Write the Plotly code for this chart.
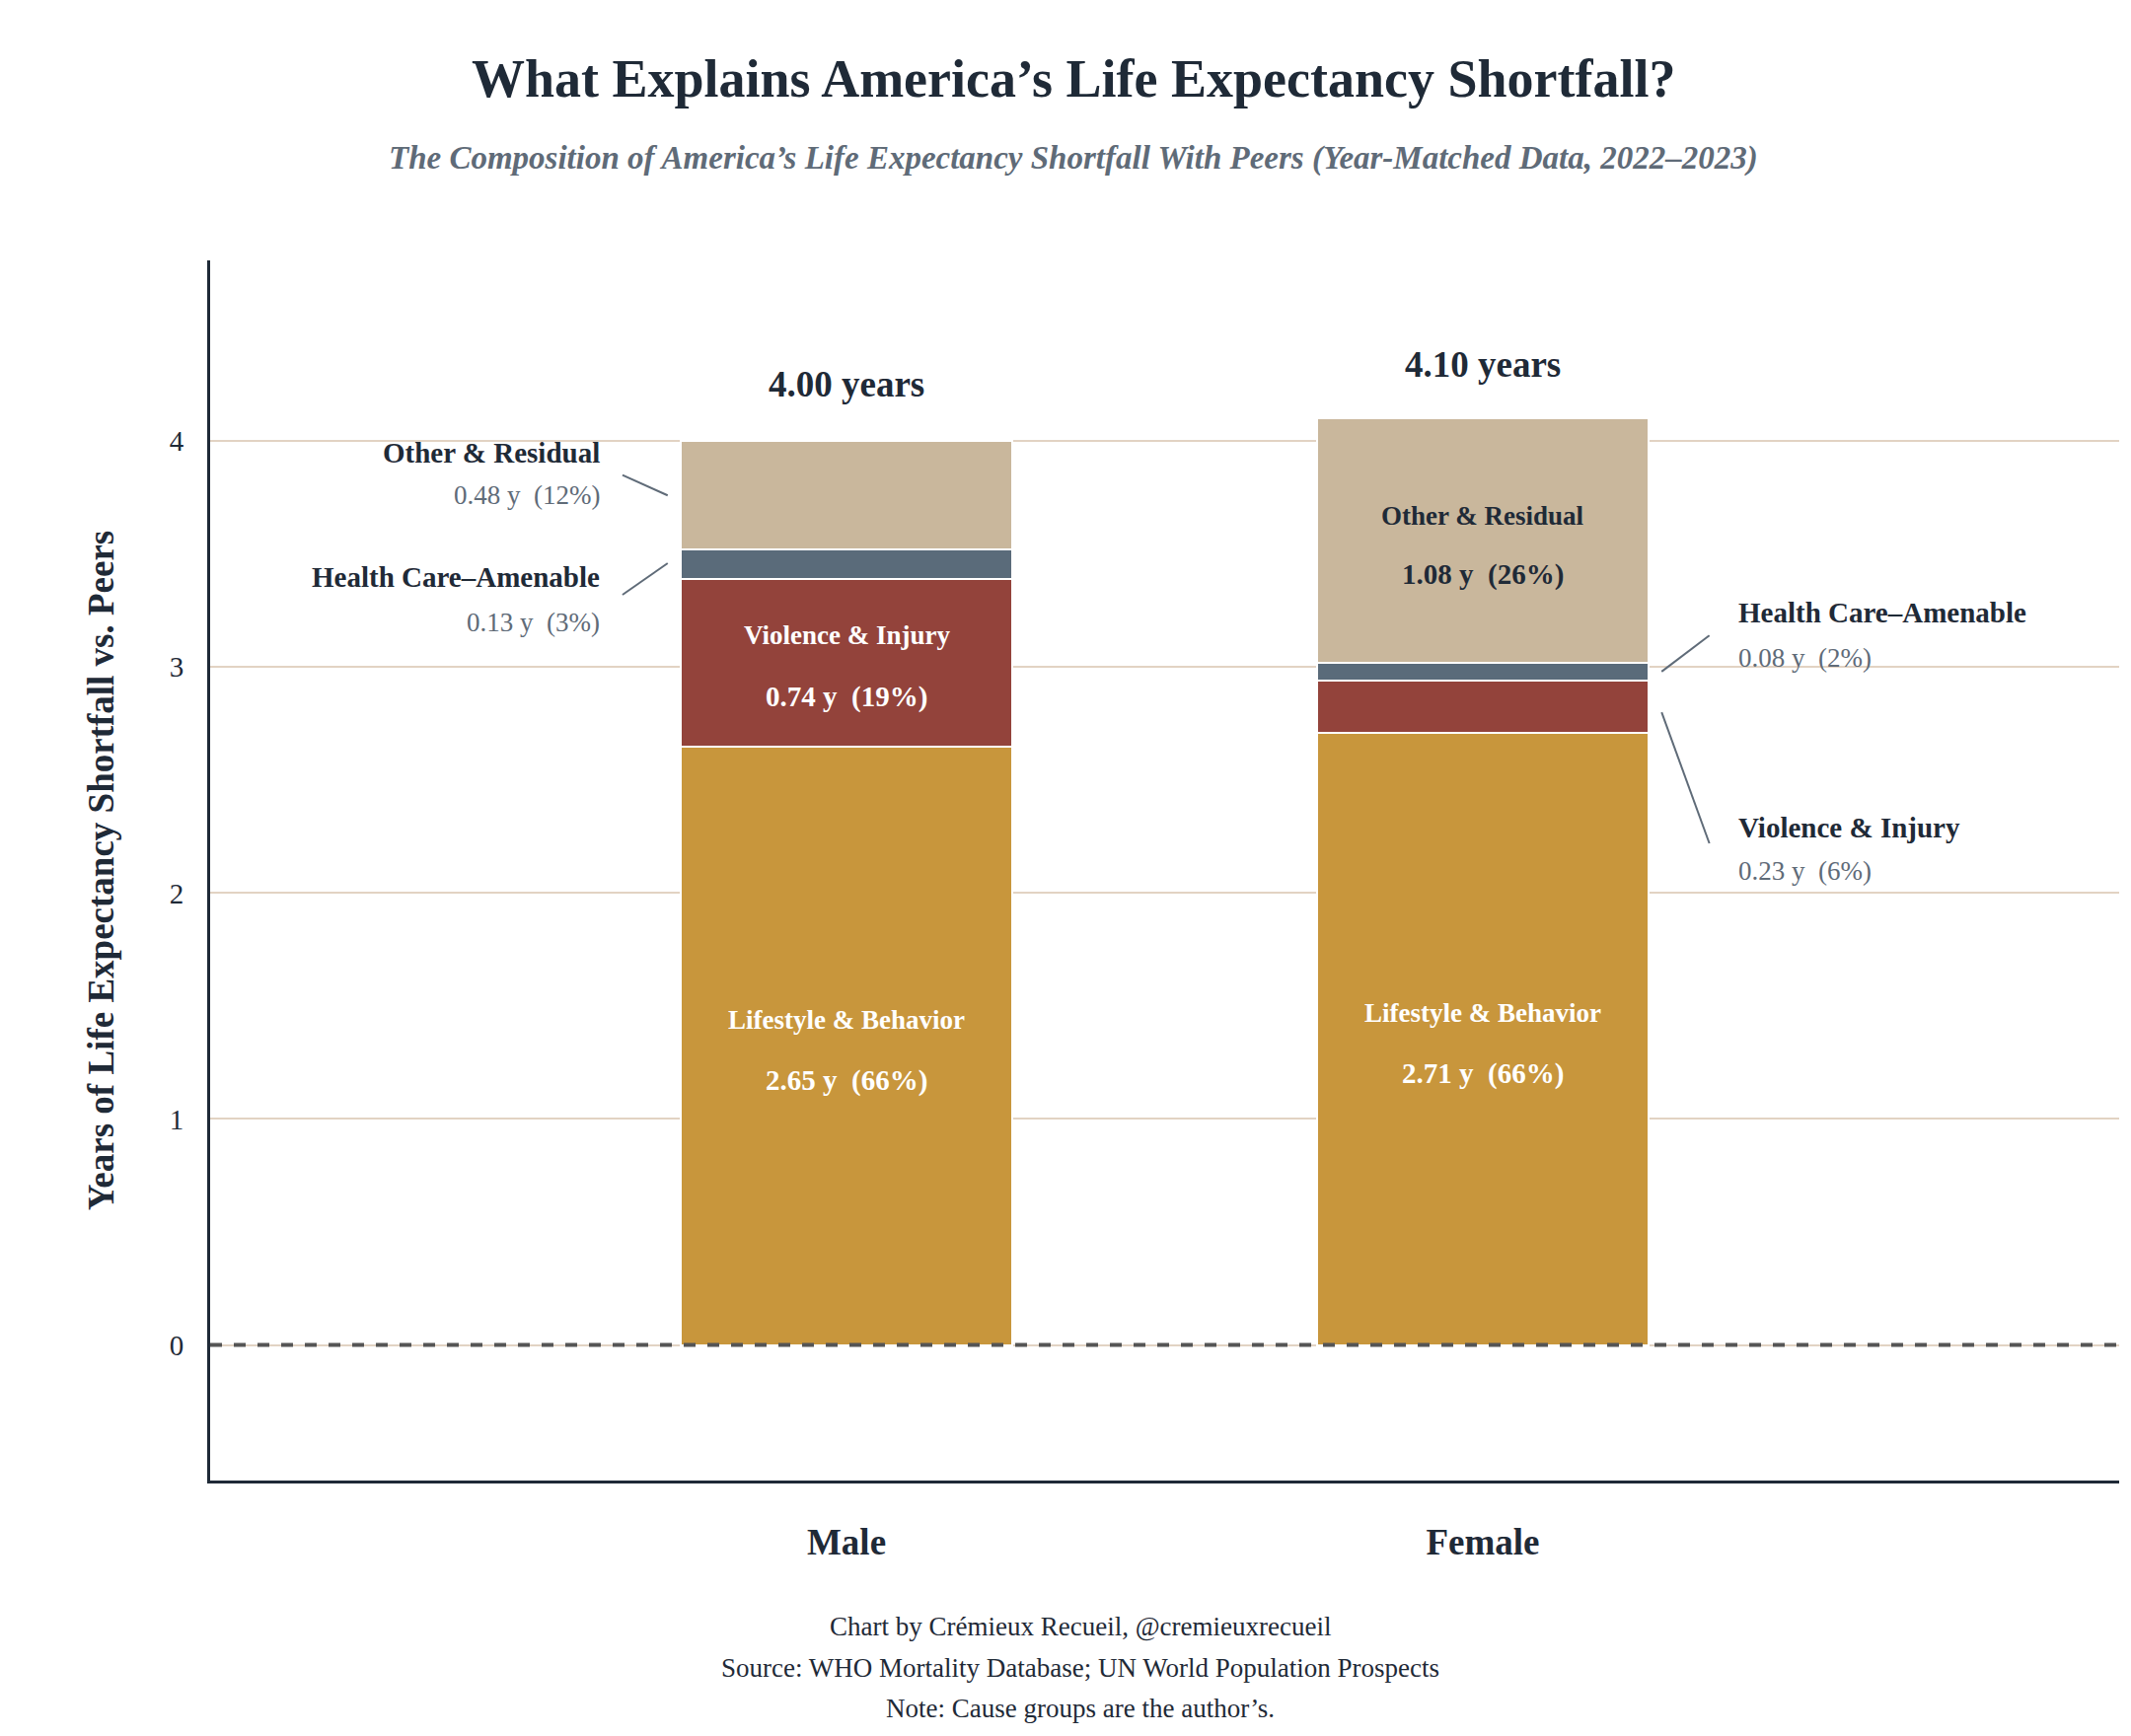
import plotly.graph_objects as go

sexes = ["Male", "Female"]
categories = ["Lifestyle & Behavior", "Violence & Injury", "Health Care–Amenable", "Other & Residual"]
male_vals = [2.65, 0.74, 0.13, 0.48]
female_vals = [2.71, 0.23, 0.08, 1.08]
male_pct = [66, 19, 3, 12]
female_pct = [66, 6, 2, 26]
totals = [4.00, 4.10]
colors = ["#C8963C", "#93433B", "#5A6B7A", "#C9B79C"]

W, H = 2160, 1760
L, R, T, B = 205, 20, 256, 267
FONT = "Liberation Serif"
DARK = "#1F2A37"
GRAY = "#5F6B78"

fig = go.Figure()
for i, cat in enumerate(categories):
    fig.add_trace(go.Bar(
        x=[0, 1], y=[male_vals[i], female_vals[i]], name=cat,
        marker=dict(color=colors[i], line=dict(color="white", width=2)),
        width=0.52, showlegend=False, hoverinfo="skip"))

ann = []
def label(x, y, text, size, color, bold=False, xanchor="center"):
    if bold:
        text = "<b>" + text + "</b>"
    ann.append(dict(x=x, y=y, xref="x", yref="y", text=text, showarrow=False,
                    font=dict(family=FONT, size=size, color=color), xanchor=xanchor, yanchor="middle"))

# totals
label(0, 4.25, f"{totals[0]:.2f} years", 37, DARK, True)
label(1, 4.34, f"{totals[1]:.2f} years", 37, DARK, True)

# inside labels
label(0, 3.14, categories[1], 27, "white", True)
label(0, 2.87, f"{male_vals[1]:.2f} y  ({male_pct[1]}%)", 29, "white", True)
label(0, 1.44, categories[0], 27, "white", True)
label(0, 1.17, f"{male_vals[0]:.2f} y  ({male_pct[0]}%)", 29, "white", True)
label(1, 3.67, categories[3], 27, DARK, True)
label(1, 3.41, f"{female_vals[3]:.2f} y  ({female_pct[3]}%)", 29, DARK, True)
label(1, 1.47, categories[0], 27, "white", True)
label(1, 1.20, f"{female_vals[0]:.2f} y  ({female_pct[0]}%)", 29, "white", True)

# outside labels
label(-0.385, 3.95, categories[3], 29, DARK, True, "right")
label(-0.385, 3.76, f"{male_vals[3]:.2f} y  ({male_pct[3]}%)", 27, GRAY, False, "right")
label(-0.385, 3.40, categories[2], 29, DARK, True, "right")
label(-0.385, 3.20, f"{male_vals[2]:.2f} y  ({male_pct[2]}%)", 27, GRAY, False, "right")
label(1.399, 3.24, categories[2], 29, DARK, True, "left")
label(1.399, 3.04, f"{female_vals[2]:.2f} y  ({female_pct[2]}%)", 27, GRAY, False, "left")
label(1.399, 2.29, categories[1], 29, DARK, True, "left")
label(1.399, 2.10, f"{female_vals[1]:.2f} y  ({female_pct[1]}%)", 27, GRAY, False, "left")

shapes = []
for x0, y0, x1, y1 in [(-0.352, 3.85, -0.281, 3.76), (-0.352, 3.32, -0.281, 3.46),
                       (1.281, 2.98, 1.356, 3.14), (1.281, 2.80, 1.356, 2.22)]:
    shapes.append(dict(type="line", xref="x", yref="y", x0=x0, y0=y0, x1=x1, y1=y1,
                       line=dict(color=GRAY, width=2)))
shapes.append(dict(type="line", xref="paper", yref="y", x0=0, x1=1, y0=0, y1=0,
                   line=dict(color="#555555", width=4, dash="dash")))

# title / subtitle / footer, positioned in figure pixels converted to plot-area paper coords
plot_w = W - L - R
plot_h = H - T - B
def px(xp):
    return (xp - L) / plot_w
def py(yp):
    return (H - B - yp) / plot_h

for x, y, text, size, color in [
    (1080, 72, "<b>What Explains America’s Life Expectancy Shortfall?</b>", 54, DARK),
    (1080, 152, "<i><b>The Composition of America’s Life Expectancy Shortfall With Peers (Year-Matched Data, 2022–2023)</b></i>", 33, GRAY),
    (1087, 1641, "Chart by Crémieux Recueil, @cremieuxrecueil", 27, DARK),
    (1087, 1683, "Source: WHO Mortality Database; UN World Population Prospects", 27, DARK),
    (1087, 1724, "Note: Cause groups are the author’s.", 27, DARK)]:
    ann.append(dict(x=px(x), y=py(y), xref="paper", yref="paper", text=text, showarrow=False,
                    font=dict(family=FONT, size=size, color=color), xanchor="center", yanchor="middle"))

fig.update_layout(
    width=W, height=H, barmode="stack", plot_bgcolor="white", paper_bgcolor="white",
    margin=dict(l=L, r=R, t=T, b=B, autoexpand=False),
    annotations=ann, shapes=shapes,
    xaxis=dict(range=[-1, 2], tickvals=[0, 1], ticktext=["<b>Male</b>", "<b>Female</b>"],
               tickfont=dict(family=FONT, size=37, color=DARK), showline=True,
               linecolor=DARK, linewidth=3, showgrid=False, ticks="", ticklabelstandoff=28),
    yaxis=dict(range=[-0.6, 4.8], tickvals=[0, 1, 2, 3, 4], showgrid=True, gridcolor="#E2D3C3",
               gridwidth=2, zeroline=False, showline=True, linecolor=DARK, linewidth=3,
               tickfont=dict(family=FONT, size=29, color=DARK), ticks="", ticklabelstandoff=18,
               title=dict(text="<b>Years of Life Expectancy Shortfall vs. Peers</b>",
                          font=dict(family=FONT, size=37, color=DARK), standoff=45)),
)

fig.write_html("out.html")
